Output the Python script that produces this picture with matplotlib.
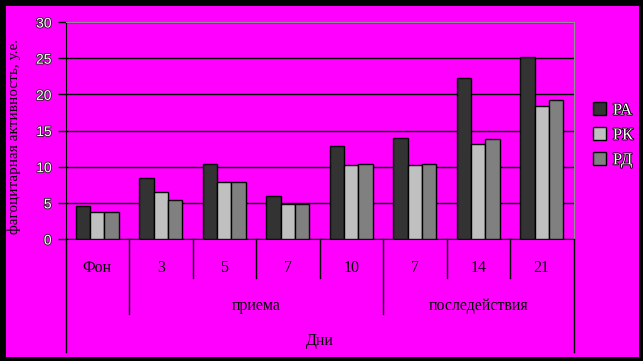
import numpy as np
import matplotlib
matplotlib.use('Agg')
import matplotlib.pyplot as plt
import matplotlib.patheffects as pe
from matplotlib.patches import Rectangle
from matplotlib.transforms import blended_transform_factory

days = ['Фон', '3', '5', '7', '10', '7', '14', '21']
groups = ['приема', 'последействия']
series = ['РА', 'РК', 'РД']
ra = [4.6, 8.4, 10.3, 6.0, 12.9, 14.0, 22.3, 25.1]
rk = [3.7, 6.5, 7.9, 4.8, 10.2, 10.2, 13.2, 18.4]
rd = [3.7, 5.35, 7.9, 4.9, 10.3, 10.3, 13.8, 19.2]
colors = ['#333333', '#c0c0c0', '#808080']

W, H = 643, 361
fig = plt.figure(figsize=(W / 100, H / 100), dpi=100, facecolor='#ff00ff')

def px(x0, y0, x1, y1):
    # pixel box (top-left origin) -> figure fraction rect
    return [x0 / W, 1 - y1 / H, (x1 - x0) / W, (y1 - y0) / H]

ax = fig.add_axes(px(65.5, 22, 573.5, 239))
ax.set_facecolor('#ff00ff')

x = np.arange(len(days))
w = 0.228
for i, (vals, c) in enumerate(zip([ra, rk, rd], colors)):
    ax.bar(x + (i - 1) * w, vals, w, color=c, edgecolor='black', linewidth=1,
           label=series[i], zorder=3)

ax.set_xlim(-0.5, len(days) - 0.5)
ax.set_ylim(0, 30)
ax.set_yticks(range(0, 31, 5))
ax.yaxis.grid(True, color='black', linewidth=1)
ax.set_axisbelow(True)
ax.tick_params(axis='y', length=6, width=1, color='black', pad=4)
ax.set_xticks([])
for t in ax.get_yticklabels():
    t.set_fontfamily('Liberation Sans')
    t.set_fontsize(10)
    t.set_color('white')
    t.set_path_effects([pe.withStroke(linewidth=1.2, foreground='#202020')])

for s in ['top', 'right']:
    ax.spines[s].set_color('#909090')
ax.spines['left'].set_color('black')
ax.spines['bottom'].set_color('black')

# multi-level category axis
tr = blended_transform_factory(ax.transData, ax.transAxes)
ah = 217.0
lvl1, lvl2, lvl3 = -39 / ah, -75 / ah, -113 / ah
for b in np.arange(-0.5, len(days)):
    if b in (-0.5, len(days) - 0.5):
        y1 = lvl3
    elif b in (0.5, 4.5):
        y1 = lvl2
    else:
        y1 = lvl1
    ax.plot([b, b], [0, y1], color='black', linewidth=1, transform=tr, clip_on=False)

serif = 'Liberation Serif'
for xi, d in zip(x, days):
    ax.text(xi, -29 / ah, d, transform=tr, ha='center', va='center',
            fontfamily=serif, fontsize=11.5, color='black')
ax.text(2.5, -67 / ah, groups[0], transform=tr, ha='center', va='center',
        fontfamily=serif, fontsize=11.5, color='black')
ax.text(6.0, -67 / ah, groups[1], transform=tr, ha='center', va='center',
        fontfamily=serif, fontsize=11.5, color='black')
ax.text(3.5, -102 / ah, 'Дни', transform=tr, ha='center', va='center',
        fontfamily=serif, fontsize=11.5, color='black')

# legend
leg = ax.legend(loc='upper left', bbox_to_anchor=(1.025, 0.66), frameon=False,
                prop={'family': serif, 'size': 12}, handlelength=0.8,
                handleheight=0.8, handletextpad=0.4, labelspacing=0.52,
                borderaxespad=0)
for t in leg.get_texts():
    t.set_color('white')
    t.set_path_effects([pe.withStroke(linewidth=1.3, foreground='black')])

# y label
fig.text(14 / W, 1 - 137 / H, 'фагоцитарная активность, у.е.', rotation=90,
         ha='center', va='center', fontfamily=serif, fontsize=11, color='black')

# black frame
for r in [px(0, 0, W, 6), px(0, 356.5, W, H), px(0, 0, 6, H), px(638.5, 0, W, H)]:
    fig.patches.append(Rectangle((r[0], r[1]), r[2], r[3], transform=fig.transFigure,
                                 facecolor='black', edgecolor='none', zorder=10))

fig.savefig('out.png', dpi=100, facecolor=fig.get_facecolor())
